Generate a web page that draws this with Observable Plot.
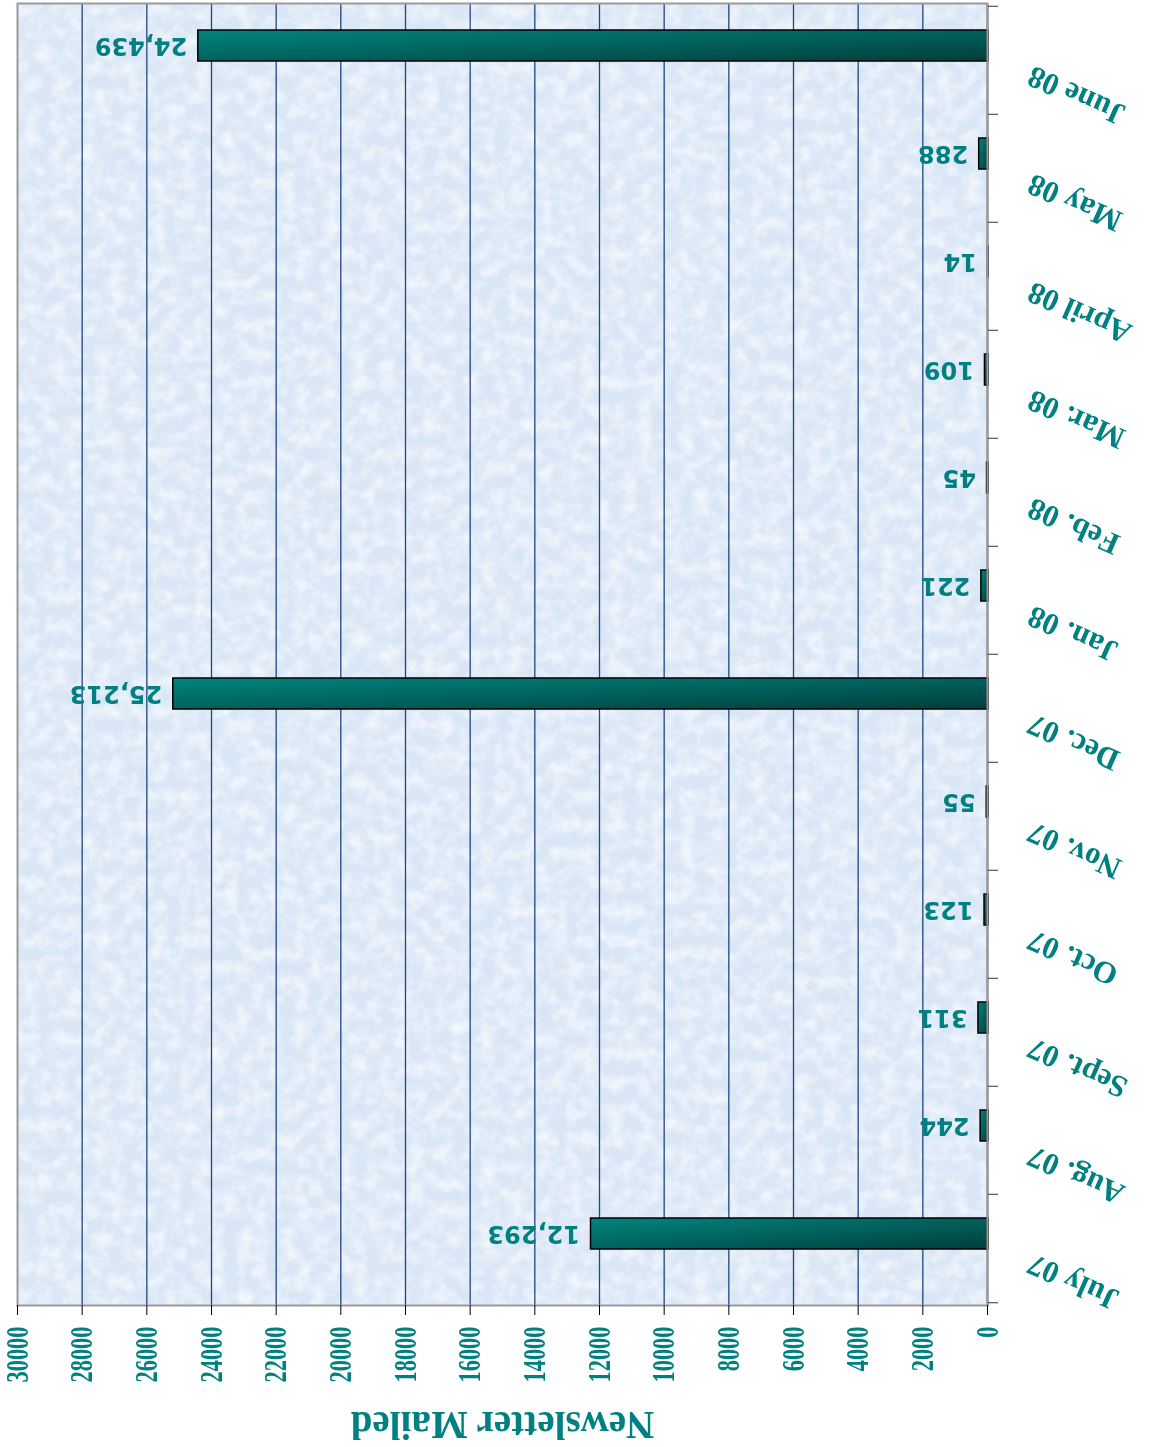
<!DOCTYPE html>
<html><head><meta charset="utf-8">
<script src="https://cdn.jsdelivr.net/npm/d3@7"></script>
<script src="https://cdn.jsdelivr.net/npm/@observablehq/plot@0.6"></script>
<style>
html,body{margin:0;padding:0;background:#fff;overflow:hidden}
#chart{width:1152px;height:1447px;transform:rotate(180deg);transform-origin:50% 50%}
#chart svg{display:block}
</style></head><body><div id="chart"></div>
<script>
const months = ["July 07","Aug. 07","Sept. 07","Oct. 07","Nov. 07","Dec. 07","Jan. 08","Feb. 08","Mar. 08","April 08","May 08","June 08"];
const mailed = [12293, 244, 311, 123, 55, 25213, 221, 45, 109, 14, 288, 24439];
const xTicks = [0,2000,4000,6000,8000,10000,12000,14000,16000,18000,20000,22000,24000,26000,28000,30000];
const axisTitle = "Newsletter Mailed";

const data = months.map((m, i) => ({month: m, value: mailed[i]}));
const TEAL = "#008080";
const serif = "Liberation Serif, Times New Roman, serif";
const sans = "DejaVu Sans, Verdana, sans-serif";
const W = 1152, H = 1447, mL = 164, mR = 18, mT = 141, mB = 4;
const step = (H - mT - mB) / months.length;
const fmt = d3.format(",");

const chart = Plot.plot({
  width: W, height: H,
  marginLeft: mL, marginRight: mR, marginTop: mT, marginBottom: mB,
  style: {background: "transparent", fontFamily: serif, color: "#000", overflow: "visible"},
  x: {domain: [0, 30000]},
  y: {domain: months, padding: 0},
  marks: [
    Plot.frame({fill: "#d9e6f6"}),
    Plot.frame({fill: "#ffffff"}),
    Plot.gridX({ticks: xTicks.filter(t => t > 0 && t < 30000), stroke: "#23467f", strokeOpacity: 1, strokeWidth: 1.3}),
    Plot.barX(data, {x: "value", y: "month", fill: "url(#barGrad)", stroke: "#000", strokeWidth: 1.5, insetTop: 54, insetBottom: 23}),
    Plot.ruleX([0], {stroke: "#000", strokeWidth: 1.5}),
    Plot.frame({stroke: "#9a9a9a", strokeWidth: 2}),
    Plot.axisX({anchor: "top", ticks: xTicks, tickSize: 10, tickPadding: 11, tickRotate: 90,
      textAnchor: "end", lineAnchor: "middle", tickFormat: d => String(d),
      fontSize: 32, fontWeight: "bold", fontFamily: serif, fill: TEAL, stroke: "#000", label: null}),
    Plot.axisY({anchor: "left", tickSize: 10, tickFormat: () => "", dy: step / 2, stroke: "#333", label: null}),
    Plot.axisY({anchor: "left", ticks: [months[0]], tickSize: 10, tickFormat: () => "", dy: -step / 2, stroke: "#333", label: null}),
    Plot.axisY({anchor: "left", tickSize: 0, tickPadding: 42, tickRotate: 24, textAnchor: "end", lineAnchor: "middle",
      dy: -14, fontSize: 31, fontWeight: "bold", fontFamily: serif, fill: TEAL, label: null}),
    Plot.text(data, {x: "value", y: "month", text: d => fmt(d.value), textAnchor: "start", lineAnchor: "middle",
      dx: 10, dy: 15, fontSize: 24, fontWeight: "bold", fontFamily: sans, fill: TEAL}),
    Plot.text([axisTitle], {text: d => d, frameAnchor: "top", dy: -106, lineAnchor: "bottom",
      fontSize: 39, fontWeight: "bold", fontFamily: serif, fill: TEAL})
  ]
});

document.getElementById("chart").appendChild(chart);

const svg = d3.select(chart.tagName.toLowerCase() === "svg" ? chart : chart.querySelector("svg"));
const defs = svg.insert("defs", ":first-child");
const g = defs.append("linearGradient").attr("id", "barGrad")
  .attr("x1", 0).attr("y1", 0).attr("x2", 1).attr("y2", 1);
g.append("stop").attr("offset", 0).attr("stop-color", "#003e3b");
g.append("stop").attr("offset", 0.5).attr("stop-color", "#00625d");
g.append("stop").attr("offset", 1).attr("stop-color", "#00857e");
const f = defs.append("filter").attr("id", "paper")
  .attr("x", 0).attr("y", 0).attr("width", 1).attr("height", 1);
f.append("feTurbulence").attr("type", "fractalNoise").attr("baseFrequency", 0.07)
  .attr("numOctaves", 4).attr("seed", 11).attr("result", "noise");
f.append("feColorMatrix").attr("in", "noise").attr("type", "matrix")
  .attr("values", "0 0 0 0 1  0 0 0 0 1  0 0 0 0 1  1.3 0 0 0 -0.45");

const frames = svg.selectAll('[aria-label="frame"]').nodes();
if (frames[1]) d3.select(frames[1]).attr("filter", "url(#paper)");

svg.selectAll('g[aria-label="x-axis tick label"] text').each(function() {
  const t = this.getAttribute("transform") || "";
  this.setAttribute("transform", t + " scale(0.7,1)");
});
</script></body></html>
